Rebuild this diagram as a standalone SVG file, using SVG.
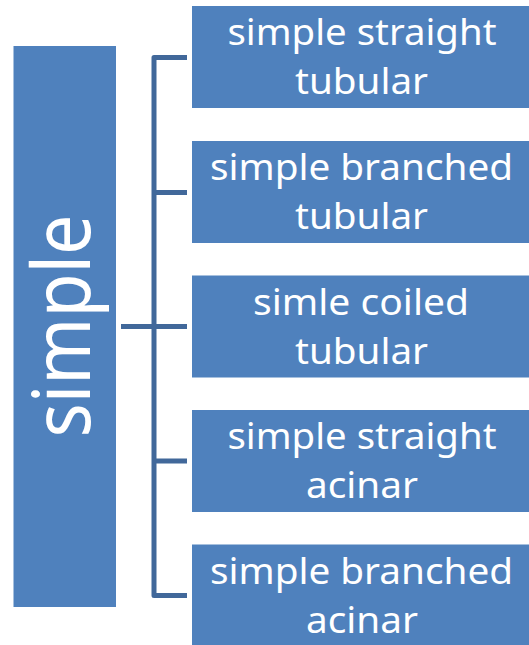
<svg xmlns="http://www.w3.org/2000/svg" width="529" height="645" viewBox="0 0 529 645">
<style>
.box{fill:#4F81BD}
.t{fill:#fff;font-family:"Noto Sans","Open Sans",sans-serif;font-size:37px;text-anchor:middle}
.big{fill:#fff;font-family:"Noto Sans","Open Sans",sans-serif;font-size:80px;text-anchor:middle}
.c{fill:none;stroke:#41689A;stroke-width:5;stroke-linejoin:round}
</style>
<rect width="529" height="645" fill="#fff"/>
<g id="connectors">
<path class="c" d="M187,57.5 H154 V595.5 H187"/>
<path class="c" d="M121,326.5 H187"/>
<path class="c" d="M154,192.5 H187"/>
<path class="c" d="M154,461 H187"/>
</g>
<g id="root">
<rect class="box" x="13.5" y="46" width="102.5" height="561"/>
<text class="big" transform="translate(90,326) rotate(-90)" textLength="223" lengthAdjust="spacingAndGlyphs">simple</text>
</g>
<g id="n1">
<rect class="box" x="192" y="6" width="337" height="102"/>
<text class="t" x="362" y="45" textLength="269" lengthAdjust="spacingAndGlyphs">simple straight</text>
<text class="t" x="361.5" y="94" textLength="133" lengthAdjust="spacingAndGlyphs">tubular</text>
</g>
<g id="n2">
<rect class="box" x="192" y="141" width="337" height="102"/>
<text class="t" x="361.5" y="180" textLength="303" lengthAdjust="spacingAndGlyphs">simple branched</text>
<text class="t" x="361.5" y="229" textLength="133" lengthAdjust="spacingAndGlyphs">tubular</text>
</g>
<g id="n3">
<rect class="box" x="192" y="275.5" width="337" height="102"/>
<text class="t" x="361" y="314.5" textLength="216" lengthAdjust="spacingAndGlyphs">simle coiled</text>
<text class="t" x="361.5" y="363.5" textLength="133" lengthAdjust="spacingAndGlyphs">tubular</text>
</g>
<g id="n4">
<rect class="box" x="192" y="410" width="337" height="102"/>
<text class="t" x="362" y="449" textLength="269" lengthAdjust="spacingAndGlyphs">simple straight</text>
<text class="t" x="362" y="498" textLength="112" lengthAdjust="spacingAndGlyphs">acinar</text>
</g>
<g id="n5">
<rect class="box" x="192" y="544.5" width="337" height="101"/>
<text class="t" x="361.5" y="583.5" textLength="303" lengthAdjust="spacingAndGlyphs">simple branched</text>
<text class="t" x="362" y="632.5" textLength="112" lengthAdjust="spacingAndGlyphs">acinar</text>
</g>
</svg>
